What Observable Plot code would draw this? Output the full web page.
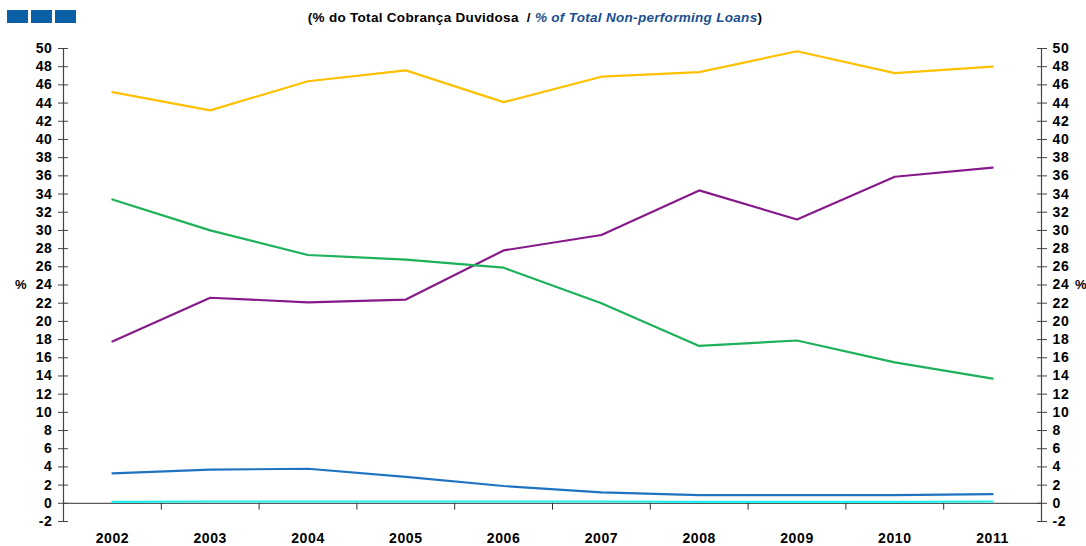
<!DOCTYPE html>
<html>
<head>
<meta charset="utf-8">
<script src="https://cdn.jsdelivr.net/npm/d3@7"></script>
<script src="https://cdn.jsdelivr.net/npm/@observablehq/plot@0.6"></script>
<style>
  body { margin: 0; background: #fff; font-family: "Liberation Sans", Arial, sans-serif; }
  #wrap { position: relative; width: 1086px; height: 546px; overflow: hidden; }
  #squares { position: absolute; left: 7px; top: 10px; display: flex; gap: 3px; }
  #squares span { display: block; width: 21px; height: 13px; background: #0a5fa5; }
  #sub { position: absolute; left: 0; width: 1070px; top: 10px; text-align: center; font-size: 13.5px; font-weight: bold; color: #000; white-space: pre; letter-spacing: 0.3px; }
  #sub i { color: #1a4f8f; font-weight: 900; }
  .pct { position: absolute; top: 277px; font-size: 13px; font-weight: bold; }
</style>
</head>
<body>
<div id="wrap">
  <div id="chart"></div>
  <div id="squares"><span></span><span></span><span></span></div>
  <div id="sub">(% do Total Cobrança Duvidosa  / <i>% of Total Non-performing Loans</i>)</div>
  <div class="pct" style="left:15px">%</div>
  <div class="pct" style="left:1075px">%</div>
</div>
<script>
const years = [2002, 2003, 2004, 2005, 2006, 2007, 2008, 2009, 2010, 2011];
const seriesA = [45.2, 43.2, 46.4, 47.6, 44.1, 46.9, 47.4, 49.7, 47.3, 48.0];
const seriesB = [17.8, 22.6, 22.1, 22.4, 27.8, 29.5, 34.4, 31.2, 35.9, 36.9];
const seriesC = [33.4, 30.0, 27.3, 26.8, 25.9, 22.0, 17.3, 17.9, 15.5, 13.7];
const seriesD = [3.3, 3.7, 3.8, 2.9, 1.9, 1.2, 0.9, 0.9, 0.9, 1.0];
const seriesE = [0.15, 0.2, 0.2, 0.2, 0.2, 0.2, 0.15, 0.15, 0.15, 0.2];
const yTicks = d3.range(-2, 51, 2);

const seriesList = [
  {name: "A", values: seriesA, color: "#ffc000"},
  {name: "B", values: seriesB, color: "#861a8a"},
  {name: "C", values: seriesC, color: "#1db15a"},
  {name: "D", values: seriesD, color: "#1f74c1"},
  {name: "E", values: seriesE, color: "#22f0f0"}
];
const rows = seriesList.flatMap(s => years.map((yr, i) => ({year: yr, value: s.values[i], series: s.name})));
const xMin = years[0] - 0.5, xMax = years[years.length - 1] + 0.5;
const boundaries = years.slice(1).map(y => y - 0.5);

const font = {fontSize: 14, fontWeight: "bold", fill: "#000"};

const chart = Plot.plot({
  width: 1086,
  height: 546,
  marginLeft: 63,
  marginRight: 45,
  marginTop: 48,
  marginBottom: 25,
  style: {fontFamily: "'Liberation Sans', Arial, sans-serif", letterSpacing: "0.6px", background: "#fff"},
  x: {type: "linear", domain: [xMin, xMax]},
  y: {domain: [-2, 50]},
  color: {type: "ordinal", domain: seriesList.map(s => s.name), range: seriesList.map(s => s.color)},
  marks: [
    Plot.ruleY([0], {stroke: "#333", strokeWidth: 1}),
    Plot.ruleX(boundaries, {x: d => d, y1: 0, y2: -0.75, stroke: "#333"}),
    Plot.ruleX([xMin, xMax], {x: d => d, stroke: "#444", strokeWidth: 1.2}),
    Plot.axisY({anchor: "left", ticks: yTicks, tickSize: 10, dx: 5, tickPadding: 6, tickFormat: d => String(d), stroke: "#444", ...font, label: null}),
    Plot.axisY({anchor: "right", ticks: yTicks, tickSize: 10, dx: -5, tickPadding: 6, tickFormat: d => String(d), stroke: "#444", ...font, label: null}),
    Plot.axisX({anchor: "bottom", ticks: years, tickSize: 0, tickPadding: 12, tickFormat: d => String(d), ...font, label: null}),
    Plot.line(rows, {x: "year", y: "value", z: "series", stroke: "series", strokeWidth: 2.2})
  ]
});
document.getElementById("chart").appendChild(chart);
</script>
</body>
</html>
